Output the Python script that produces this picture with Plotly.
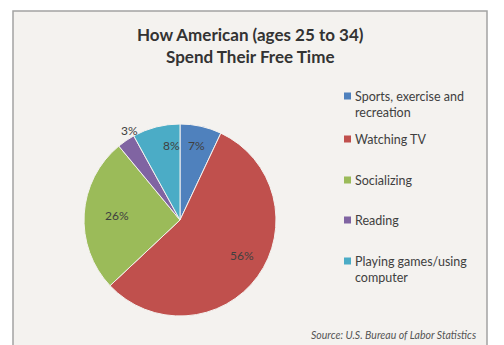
import numpy as np
import plotly.graph_objects as go

# Time-use shares for Americans aged 25 to 34
categories = [
    "Sports, exercise and recreation",
    "Watching TV",
    "Socializing",
    "Reading",
    "Playing games/using computer",
]
legend_labels = [
    "Sports, exercise and<br>recreation",
    "Watching TV",
    "Socializing",
    "Reading",
    "Playing games/using<br>computer",
]
shares = [7, 56, 26, 3, 8]
slice_colors = ["#4F81BD", "#C0504D", "#9BBB59", "#8064A2", "#4BACC6"]
label_outside = [False, False, False, True, False]

W, H = 504, 345
FONT = "Lato"
TEXT = "#404040"

# pie placement in pixels
CX, CY, R = 180, 220, 96


def px(x):
    return x / W


def py(y):
    return 1 - y / H


fig = go.Figure(
    go.Pie(
        labels=categories,
        values=shares,
        sort=False,
        direction="clockwise",
        rotation=0,
        marker=dict(colors=slice_colors, line=dict(color="#f4f2ef", width=1)),
        textinfo="none",
        domain=dict(x=[px(CX - R), px(CX + R)], y=[py(CY + R), py(CY - R)]),
        showlegend=False,
        hovertemplate="%{label}: %{value}%<extra></extra>",
    )
)

# percentage labels at each slice's mid-angle (clockwise from 12 o'clock)
vals = np.array(shares, dtype=float)
mid = (np.cumsum(vals) - vals / 2) / vals.sum() * 2 * np.pi
for share, ang, outside in zip(shares, mid, label_outside):
    rr = R * (1.13 if outside else 0.8)
    fig.add_annotation(
        x=px(CX + rr * np.sin(ang)), y=py(CY - rr * np.cos(ang)),
        xref="paper", yref="paper", showarrow=False,
        text=f"{share}%", font=dict(family=FONT, size=12, color=TEXT),
    )

# chart area frame
fig.add_shape(
    type="rect", xref="paper", yref="paper", layer="below",
    x0=px(13), x1=px(487), y0=py(360), y1=py(11),
    fillcolor="#f4f2ef", line=dict(color="#a3a3a3", width=1.5),
)

# title
fig.add_annotation(
    x=px(250), y=py(46), xref="paper", yref="paper",
    xanchor="center", yanchor="middle", showarrow=False,
    text="<b>How American (ages 25 to 34)<br>Spend Their Free Time</b>",
    font=dict(family=FONT, size=17, color="#333333"),
)

# legend: colour key squares with their labels
legend_y = [96, 139, 180, 220, 261]
for label, color, y in zip(legend_labels, slice_colors, legend_y):
    fig.add_shape(
        type="rect", xref="paper", yref="paper",
        x0=px(344), x1=px(351), y0=py(y + 3.5), y1=py(y - 3.5),
        fillcolor=color, line=dict(width=0),
    )
    fig.add_annotation(
        x=px(353), y=py(y - 9), xref="paper", yref="paper",
        xanchor="left", yanchor="top", align="left", showarrow=False,
        text=label, font=dict(family=FONT, size=12.5, color=TEXT),
    )

# source note
fig.add_annotation(
    x=px(478), y=py(335), xref="paper", yref="paper",
    xanchor="right", yanchor="middle", showarrow=False,
    text="<i>Source: U.S. Bureau of Labor Statistics</i>",
    font=dict(family=FONT, size=10.5, color="#555555"),
)

fig.update_layout(
    width=W, height=H,
    margin=dict(l=0, r=0, t=0, b=0),
    paper_bgcolor="white",
    plot_bgcolor="white",
    showlegend=False,
)

fig.write_html("out.html")
